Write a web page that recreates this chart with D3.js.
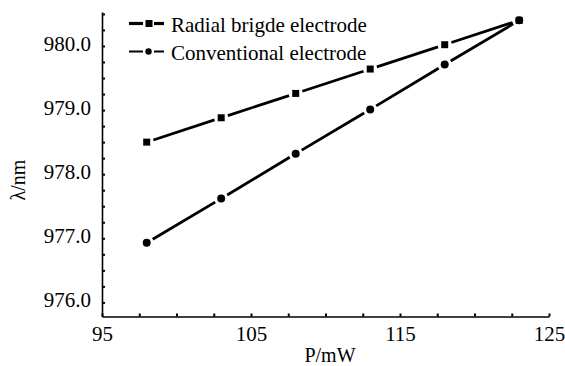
<!DOCTYPE html>
<html>
<head>
<meta charset="utf-8">
<script src="https://cdn.jsdelivr.net/npm/d3@7"></script>
<style>
  body { margin: 0; background: #fff; }
  svg text { font-family: "Liberation Serif", "Times New Roman", Times, serif; fill: #000; }
</style>
</head>
<body>
<svg id="chart" width="565" height="366"></svg>
<script>
'use strict'

/****** DATA ******/

const power = [98, 103, 108, 113, 118, 123] // P/mW
const radial = [978.50, 978.88, 979.26, 979.64, 980.02, 980.40] // Radial brigde electrode
const conventional = [976.93, 977.62, 978.32, 979.01, 979.71, 980.40] // Conventional electrode

const xTickLabels = [95, 105, 115, 125]
const yTickLabels = [976, 977, 978, 979, 980]

const seriesNames = ['Radial brigde electrode', 'Conventional electrode']

const SERIF = '"Liberation Serif", "Times New Roman", serif'


/****** SETUP ******/

const svg = d3.select('#chart')

const x = d3.scaleLinear().domain([95, 125]).range([102, 549])
const y = d3.scaleLinear().domain([975.78, 980.53]).range([316.5, 12])

const fmtY = d3.format('.1f')

// minor ticks every 2.5 mW and every 0.25 nm, labels only on the majors
const xTicks = d3.range(95, 125.01, 2.5)
const yTicks = d3.range(976, 980.51, 0.25)

const xAxis = svg.append('g')
  .attr('transform', `translate(0,${y.range()[0]})`)
  .call(d3.axisBottom(x).tickValues(xTicks).tickSizeInner(-3).tickSizeOuter(0)
    .tickFormat(d => xTickLabels.includes(d) ? d : ''))

const yAxis = svg.append('g')
  .attr('transform', `translate(${x.range()[0]},0)`)
  .call(d3.axisLeft(y).tickValues(yTicks).tickSizeInner(-3).tickSizeOuter(0)
    .tickFormat(d => yTickLabels.includes(d) ? fmtY(d) : ''))

// d3 puts sans-serif on the axis groups, override it
xAxis.attr('font-family', SERIF)
yAxis.attr('font-family', SERIF)

svg.selectAll('.domain').attr('stroke', '#000').attr('stroke-width', 1.6)
svg.selectAll('.tick line').attr('stroke', '#000').attr('stroke-width', 2)

xAxis.selectAll('text')
  .attr('font-size', 21)
  .attr('y', 10)
  .attr('dy', '0.7em')
yAxis.selectAll('text')
  .attr('font-size', 21)
  .attr('x', -11)
  .attr('dy', '0.2em')

svg.append('text')
  .attr('x', 330)
  .attr('y', 362)
  .attr('text-anchor', 'middle')
  .attr('font-size', 20)
  .text('P/mW')

svg.append('text')
  .attr('transform', 'translate(25,180) rotate(-90)')
  .attr('text-anchor', 'middle')
  .attr('font-size', 20)
  .text('λ/nm')


/****** SERIES ******/

// segments stop a few px short of each marker, like the original
function gappedSegments(values, gap) {
  const pts = power.map((p, i) => [x(p), y(values[i])])
  const segs = []
  for (let i = 1; i < pts.length; i++) {
    const [x0, y0] = pts[i - 1], [x1, y1] = pts[i]
    const len = Math.hypot(x1 - x0, y1 - y0)
    const ux = (x1 - x0) / len, uy = (y1 - y0) / len
    segs.push([[x0 + ux * gap, y0 + uy * gap], [x1 - ux * gap, y1 - uy * gap]])
  }
  return segs
}

const segLine = d3.line()

const series = [
  { values: radial, marker: 'square' },
  { values: conventional, marker: 'circle' }
]

series.forEach(s => {
  const g = svg.append('g')
  g.selectAll('path')
    .data(gappedSegments(s.values, 7))
    .join('path')
      .attr('d', segLine)
      .attr('fill', 'none')
      .attr('stroke', '#000')
      .attr('stroke-width', 2.8)

  if (s.marker === 'square') {
    g.selectAll('rect')
      .data(power)
      .join('rect')
        .attr('x', (d, i) => x(d) - 3.5)
        .attr('y', (d, i) => y(s.values[i]) - 3.5)
        .attr('width', 7)
        .attr('height', 7)
        .attr('fill', '#000')
  } else {
    g.selectAll('circle')
      .data(power)
      .join('circle')
        .attr('cx', d => x(d))
        .attr('cy', (d, i) => y(s.values[i]))
        .attr('r', 4)
        .attr('fill', '#000')
  }
})


/****** LEGEND ******/

const legend = svg.append('g')

seriesNames.forEach((name, i) => {
  const ly = i === 0 ? 23.5 : 51.5
  const row = legend.append('g')
  const sw = i === 0 ? 3.2 : 2
  row.append('line').attr('x1', 129).attr('x2', 143).attr('y1', ly).attr('y2', ly)
    .attr('stroke', '#000').attr('stroke-width', sw)
  row.append('line').attr('x1', 154).attr('x2', 164).attr('y1', ly).attr('y2', ly)
    .attr('stroke', '#000').attr('stroke-width', sw)
  if (i === 0) {
    row.append('rect').attr('x', 145.5).attr('y', ly - 3.5).attr('width', 7).attr('height', 7)
  } else {
    row.append('circle').attr('cx', 148.5).attr('cy', ly).attr('r', 3.2)
  }
  row.append('text')
    .attr('x', 171)
    .attr('y', ly + 8.5)
    .attr('font-size', 21)
    .text(name)
})
</script>
</body>
</html>
